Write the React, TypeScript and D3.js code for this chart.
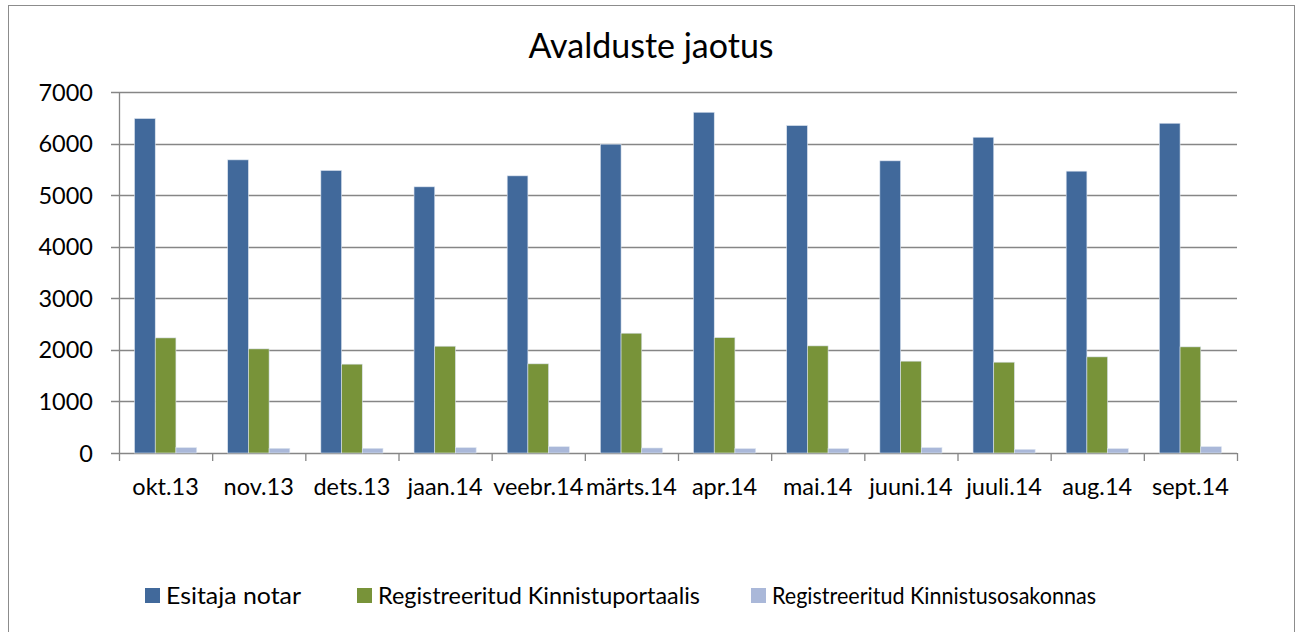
import React from "react";
import * as d3 from "d3";

const categories = [
  "okt.13", "nov.13", "dets.13", "jaan.14", "veebr.14", "märts.14",
  "apr.14", "mai.14", "juuni.14", "juuli.14", "aug.14", "sept.14",
];
const seriesNames = [
  "Esitaja notar",
  "Registreeritud Kinnistuportaalis",
  "Registreeritud Kinnistusosakonnas",
];
const notar = [6485, 5684, 5478, 5161, 5374, 5988, 6607, 6349, 5665, 6123, 5465, 6394];
const portaal = [2232, 2019, 1723, 2071, 1729, 2323, 2238, 2077, 1781, 1761, 1864, 2058];
const osakond = [103, 90, 90, 103, 122, 97, 84, 84, 103, 70, 84, 122];
const yTicks = [0, 1000, 2000, 3000, 4000, 5000, 6000, 7000];
const colors = ["#41699b", "#789339", "#aab8d9"];

const W = 1300;
const H = 632;
const font = "Lato, 'Open Sans', sans-serif";

export default function App() {
  const left = 119, right = 1237, top = 92, bottom = 453;
  const x = d3.scaleBand<string>().domain(categories).range([left, right]).paddingInner(0).paddingOuter(0);
  const barW = x.bandwidth() / 4.5;
  const y = d3.scaleLinear().domain([0, 7000]).range([bottom, top]);
  const series = [notar, portaal, osakond];
  const grid = "#868686";

  // legend layout (Excel spacing)
  const legendX = [145, 357, 751];
  const legendLen = [135, 322, 324];

  return (
    <div style={{ position: "fixed", left: 0, top: 0 }}>
      <svg width={W} height={H} style={{ display: "block", background: "#fff" }}>
        <rect x={8.5} y={5.5} width={1286} height={640} fill="#fff" stroke="#8c8c8c" strokeWidth={1} />
        <text x={651} y={58} textAnchor="middle" fontFamily={font} fontSize={34} fill="#000">
          Avalduste jaotus
        </text>

        {yTicks.map((t) => (
          <g key={t}>
            <line x1={111} x2={right} y1={Math.round(y(t)) + 0.5} y2={Math.round(y(t)) + 0.5} stroke={grid} strokeWidth={1.3} />
            <text x={93} y={y(t) + 8.5} textAnchor="end" fontFamily={font} fontSize={23.5} fill="#000">
              {t}
            </text>
          </g>
        ))}
        <line x1={left + 0.5} x2={left + 0.5} y1={top} y2={bottom + 8} stroke={grid} strokeWidth={1.3} />
        {categories.map((c) => (
          <line key={c} x1={x(c)! + x.bandwidth() + 0.5} x2={x(c)! + x.bandwidth() + 0.5} y1={bottom} y2={bottom + 8} stroke={grid} strokeWidth={1.3} />
        ))}

        {series.map((vals, s) =>
          vals.map((v, i) => {
            const bx = x(categories[i])! + barW * 0.75 + s * barW;
            return (
              <rect
                key={`${s}-${i}`}
                x={bx}
                y={y(v)}
                width={barW}
                height={bottom - y(v)}
                fill={colors[s]}
                stroke="#dbe3ef"
                strokeWidth={0.6}
              />
            );
          })
        )}

        {categories.map((c) => (
          <text key={c} x={x(c)! + x.bandwidth() / 2} y={495} textAnchor="middle" fontFamily={font} fontSize={23.5} fill="#000">
            {c}
          </text>
        ))}

        {seriesNames.map((n, i) => (
          <g key={n}>
            <rect x={legendX[i]} y={588} width={15} height={15} fill={colors[i]} />
            <text
              x={legendX[i] + 21}
              y={604}
              fontFamily={font}
              fontSize={24}
              fill="#000"
              textLength={legendLen[i]}
              lengthAdjust="spacingAndGlyphs"
            >
              {n}
            </text>
          </g>
        ))}
      </svg>
    </div>
  );
}
